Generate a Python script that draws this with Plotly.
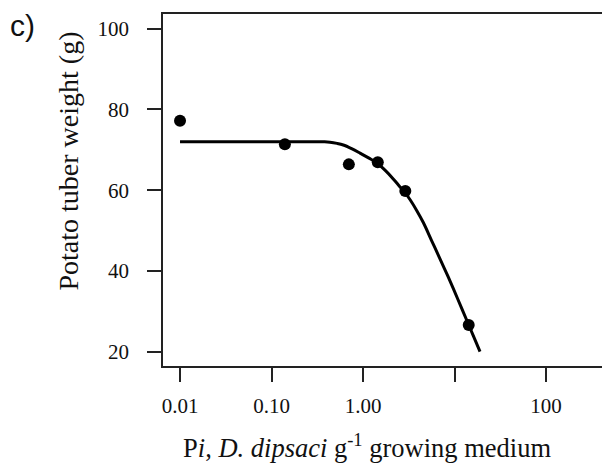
import plotly.graph_objects as go

# Observed tuber weights at each initial nematode density (Pi)
obs_pi = [0.01, 0.14, 0.70, 1.45, 2.9, 14.3]
obs_weight = [77.2, 71.4, 66.4, 66.9, 59.8, 26.6]

# Fitted Seinhorst-type response curve
fit_pi = [0.01, 0.264, 0.38, 0.435, 0.52, 0.609, 0.75, 0.927, 1.15, 1.41, 1.75, 2.14, 2.5,
          2.88, 3.3, 3.86, 4.56, 5.6, 6.94, 8.2, 9.71, 11.8, 14.2, 16.5, 19.0]
fit_weight = [72.0, 72.0, 72.0, 71.9, 71.6, 71.2, 70.3, 69.2, 68.0, 66.8, 64.9, 62.8, 61.0,
              59.4, 57.5, 55.0, 52.0, 47.6, 43.0, 39.4, 35.6, 31.1, 26.8, 23.3, 20.0]

# Axis ticks
x_tickvals = [0.01, 0.1, 1, 10, 100]
x_ticktext = ["0.01", "0.10", "1.00", "", "100"]
y_tickvals = [20, 40, 60, 80, 100]

SERIF = "Liberation Serif"

fig = go.Figure()
fig.add_trace(go.Scatter(
    x=fit_pi, y=fit_weight, mode="lines",
    line=dict(color="black", width=3, shape="spline", smoothing=1.0),
    hoverinfo="skip", showlegend=False,
))
fig.add_trace(go.Scatter(
    x=obs_pi, y=obs_weight, mode="markers",
    marker=dict(color="black", size=12),
    showlegend=False,
))

axis_common = dict(
    showgrid=False, zeroline=False,
    showline=True, linecolor="#222", linewidth=1.5,
    ticks="outside", ticklen=14, tickwidth=1.5, tickcolor="#222",
    tickfont=dict(family=SERIF, size=21, color="#111"),
)

fig.update_xaxes(
    type="log", range=[-2.186, 2.612],
    tickvals=x_tickvals, ticktext=x_ticktext,
    mirror=True, ticklabelstandoff=6,
    **axis_common,
)
fig.update_yaxes(
    range=[16.45, 103.65],
    tickvals=y_tickvals,
    ticklabelstandoff=14,
    **axis_common,
)

fig.add_annotation(
    text="P<i>i</i>, <i>D. dipsaci</i> g<sup>-1</sup> growing medium",
    xref="paper", yref="paper", x=0.4647, y=-0.226,
    xanchor="center", yanchor="middle", showarrow=False,
    font=dict(family=SERIF, size=26.5, color="#111"),
)
fig.add_annotation(
    text="Potato tuber weight (g)",
    xref="paper", yref="paper", x=-0.213, y=0.5824,
    xanchor="center", yanchor="middle", textangle=-90, showarrow=False,
    font=dict(family=SERIF, size=28, color="#111"),
)
fig.add_annotation(
    text="c)",
    xref="paper", yref="paper", x=-0.321, y=0.966,
    xanchor="center", yanchor="middle", showarrow=False,
    font=dict(family="Liberation Sans", size=30, color="#111"),
)

fig.update_layout(
    width=602, height=465,
    margin=dict(l=163, r=0, t=14, b=99),
    paper_bgcolor="white", plot_bgcolor="white",
)

fig.write_html("out.html")
